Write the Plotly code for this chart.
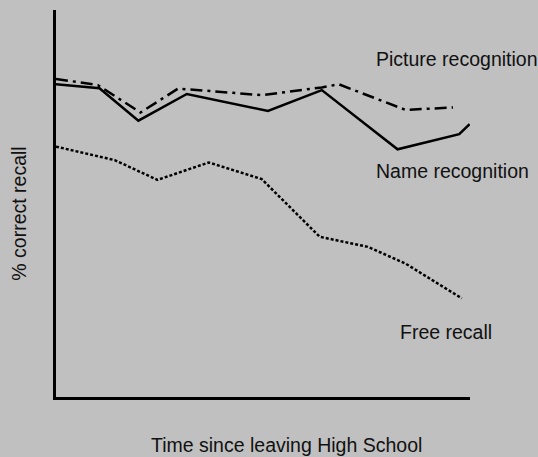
import plotly.graph_objects as go

# Data (x: time, 0-100; y: % correct recall, 0-100)
name_x = [0, 10.5, 19.9, 31.6, 51.2, 64.2, 82.5, 97.4, 99.9]
name_y = [80.8, 79.8, 71.4, 78.3, 73.9, 79.3, 64.0, 67.9, 70.5]

pic_x = [0, 10.1, 20.4, 29.5, 49.7, 64.2, 68.3, 84.4, 95.9]
pic_y = [82.2, 80.6, 73.5, 79.7, 78.0, 80.0, 80.8, 74.2, 74.8]

free_x = [0, 14.2, 24.5, 36.9, 49.7, 63.7, 75.3, 84.4, 98.0]
free_y = [64.7, 61.2, 56.1, 60.6, 56.3, 41.4, 38.8, 34.5, 25.5]

labels = ["Picture recognition", "Name recognition", "Free recall"]
x_title = "Time since leaving High School"
y_title = "% correct recall"

FONT = "Liberation Sans, Arial, sans-serif"
BG = "#c0c0c0"

fig = go.Figure()
fig.add_trace(go.Scatter(x=pic_x, y=pic_y, mode="lines", name=labels[0],
                         line=dict(color="black", width=2.5, dash="12px,5px,3px,5px")))
fig.add_trace(go.Scatter(x=name_x, y=name_y, mode="lines", name=labels[1],
                         line=dict(color="black", width=2.5)))
fig.add_trace(go.Scatter(x=free_x, y=free_y, mode="lines", name=labels[2],
                         line=dict(color="black", width=2.5, dash="3px,2px")))

ann_font = dict(family=FONT, size=19.5, color="#111111")
annotations = [
    dict(text=labels[0], x=0.769, y=0.873, xanchor="left", yanchor="middle"),
    dict(text=labels[1], x=0.769, y=0.584, xanchor="left", yanchor="middle"),
    dict(text=labels[2], x=0.825, y=0.168, xanchor="left", yanchor="middle"),
    dict(text=x_title, x=0.556, y=-0.124, xanchor="center", yanchor="middle"),
    dict(text=y_title, x=-0.09, y=0.473, xanchor="center", yanchor="middle", textangle=-90),
]
for a in annotations:
    a.update(xref="paper", yref="paper", showarrow=False, font=ann_font)

fig.update_layout(
    width=538, height=457,
    margin=dict(l=56, r=68, t=10, b=60),
    paper_bgcolor=BG, plot_bgcolor=BG,
    showlegend=False,
    hovermode=False,
    annotations=annotations,
    xaxis=dict(range=[0, 100], showline=True, linecolor="black", linewidth=3,
               showgrid=False, zeroline=False, showticklabels=False, ticks=""),
    yaxis=dict(range=[0, 100], showline=True, linecolor="black", linewidth=3,
               showgrid=False, zeroline=False, showticklabels=False, ticks=""),
)

fig.write_html("out.html", config={"displayModeBar": False},
               post_script="document.body.style.margin='0';document.body.style.overflow='hidden';")
